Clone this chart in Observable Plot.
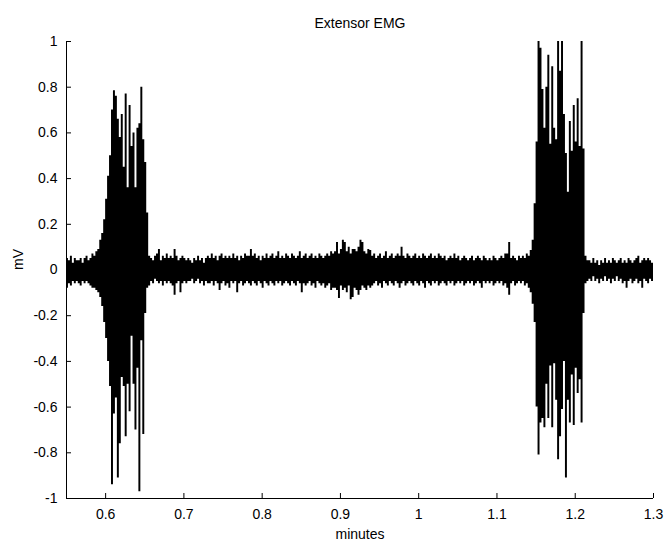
<!DOCTYPE html>
<html>
<head>
<meta charset="utf-8">
<script src="https://cdn.jsdelivr.net/npm/d3@7"></script>
<script src="https://cdn.jsdelivr.net/npm/@observablehq/plot@0.6"></script>
<style>
  html, body { margin: 0; padding: 0; background: #fff; }
</style>
</head>
<body>
<div id="chart"></div>
<script>
// ---- Data ----
const title = "Extensor EMG";
const xLabel = "minutes";
const yLabel = "mV";

// sampling grid of the envelope: start time (minutes) and bin width
const t0 = 0.55;
const dt = 0.0025;

// upper envelope (max per bin, mV)
const hi = [
  0.05,0.04,0.06,0.03,0.05,0.04,0.04,0.05,0.03,0.05,0.06,0.04,0.05,0.07,
  0.06,0.08,0.09,0.13,0.16,0.22,0.31,0.41,0.50,0.70,0.785,0.76,0.66,0.58,0.68,0.45,0.77,0.36,0.72,0.54,0.60,0.36,0.62,0.64,0.80,0.57,0.47,0.25,0.06,
  0.05,0.04,0.06,0.07,0.09,0.04,0.06,0.05,0.07,0.05,
  0.06,0.05,0.09,0.06,0.04,0.05,0.06,0.05,0.04,0.05,
  0.04,0.03,0.05,0.04,0.06,0.04,0.05,0.03,0.05,0.06,
  0.05,0.07,0.05,0.06,0.04,0.06,0.07,0.05,0.06,0.05,
  0.06,0.05,0.07,0.05,0.06,0.04,0.06,0.05,0.07,0.06,
  0.06,0.09,0.06,0.07,0.05,0.06,0.04,0.06,0.05,0.07,
  0.05,0.06,0.07,0.05,0.06,0.08,0.05,0.06,0.05,0.07,
  0.06,0.05,0.07,0.06,0.05,0.06,0.08,0.05,0.06,0.07,
  0.05,0.06,0.07,0.05,0.06,0.05,0.07,0.06,0.05,0.06,0.07,0.06,0.08,0.07,
  0.08,0.12,0.07,0.09,0.13,0.12,0.08,0.10,0.07,0.09,0.09,0.08,0.10,0.13,0.12,0.08,0.07,0.09,0.085,
  0.06,0.07,0.05,0.06,0.07,0.05,0.06,0.08,0.05,0.06,
  0.07,0.05,0.06,0.07,0.06,0.10,0.06,0.05,0.07,0.06,
  0.05,0.06,0.07,0.05,0.06,0.05,0.07,0.06,0.05,0.06,
  0.07,0.05,0.06,0.05,0.07,0.06,0.05,0.06,0.04,0.05,
  0.06,0.05,0.07,0.05,0.06,0.04,0.05,0.06,0.05,0.04,
  0.05,0.06,0.04,0.05,0.06,0.05,0.04,0.06,0.05,0.04,
  0.05,0.04,0.06,0.05,0.04,0.05,0.06,0.05,0.07,0.07,
  0.12,0.05,0.06,0.05,0.04,0.06,0.05,0.06,0.05,0.07,0.06,
  0.085,0.13,0.29,0.56,1.0,0.97,0.79,0.62,0.80,0.94,0.55,0.89,0.62,0.57,1.0,0.87,1.0,0.68,0.51,0.34,0.65,0.52,0.72,0.56,0.75,0.54,1.0,0.53,0.06,0.04,
  0.04,0.03,0.05,0.03,0.04,0.02,0.04,0.03,0.05,0.03,
  0.04,0.03,0.05,0.04,0.03,0.04,0.05,0.03,0.04,0.03,
  0.05,0.04,0.03,0.04,0.05,0.06,0.03,0.04,0.05,0.04,
  0.05,0.04,0.03,0.04
];

// lower envelope (min per bin, mV)
const lo = [
  -0.08,-0.06,-0.07,-0.05,-0.06,-0.05,-0.06,-0.07,-0.05,-0.06,-0.05,-0.06,-0.07,-0.08,
  -0.08,-0.09,-0.10,-0.12,-0.16,-0.23,-0.30,-0.40,-0.51,-0.94,-0.63,-0.56,-0.91,-0.76,-0.47,-0.51,-0.73,-0.50,-0.62,-0.29,-0.50,-0.70,-0.43,-0.97,-0.31,-0.72,-0.19,-0.08,-0.07,
  -0.05,-0.06,-0.04,-0.05,-0.06,-0.05,-0.07,-0.05,-0.06,-0.05,
  -0.06,-0.07,-0.11,-0.06,-0.05,-0.10,-0.06,-0.05,-0.06,-0.05,
  -0.05,-0.04,-0.06,-0.05,-0.04,-0.06,-0.05,-0.07,-0.05,-0.06,
  -0.06,-0.05,-0.07,-0.05,-0.06,-0.09,-0.06,-0.05,-0.07,-0.06,
  -0.08,-0.05,-0.06,-0.05,-0.10,-0.06,-0.05,-0.07,-0.06,-0.05,
  -0.06,-0.07,-0.05,-0.06,-0.07,-0.05,-0.06,-0.08,-0.05,-0.06,
  -0.07,-0.05,-0.06,-0.07,-0.05,-0.06,-0.05,-0.07,-0.06,-0.05,
  -0.06,-0.07,-0.05,-0.06,-0.07,-0.05,-0.06,-0.10,-0.06,-0.07,
  -0.06,-0.05,-0.07,-0.06,-0.08,-0.05,-0.06,-0.07,-0.06,-0.08,-0.07,-0.06,-0.09,-0.08,
  -0.08,-0.09,-0.125,-0.07,-0.09,-0.08,-0.10,-0.07,-0.13,-0.12,-0.08,-0.09,-0.11,-0.09,-0.07,-0.08,-0.09,-0.07,-0.08,
  -0.07,-0.06,-0.05,-0.07,-0.06,-0.08,-0.05,-0.06,-0.07,-0.05,
  -0.06,-0.07,-0.05,-0.06,-0.08,-0.06,-0.05,-0.07,-0.06,-0.05,
  -0.06,-0.07,-0.05,-0.06,-0.07,-0.05,-0.06,-0.08,-0.05,-0.06,
  -0.07,-0.05,-0.06,-0.05,-0.07,-0.06,-0.05,-0.06,-0.07,-0.05,
  -0.06,-0.05,-0.07,-0.06,-0.05,-0.06,-0.05,-0.07,-0.06,-0.05,
  -0.06,-0.05,-0.07,-0.06,-0.05,-0.06,-0.08,-0.05,-0.06,-0.05,
  -0.06,-0.05,-0.07,-0.06,-0.05,-0.06,-0.05,-0.07,-0.06,-0.08,
  -0.11,-0.06,-0.05,-0.07,-0.06,-0.05,-0.06,-0.05,-0.07,-0.06,-0.08,
  -0.10,-0.15,-0.23,-0.60,-0.81,-0.67,-0.65,-0.69,-0.50,-0.65,-0.42,-0.69,-0.41,-0.57,-0.83,-0.73,-0.61,-0.40,-0.91,-0.57,-0.67,-0.46,-0.68,-0.43,-0.54,-0.48,-0.67,-0.19,-0.06,-0.05,
  -0.04,-0.05,-0.03,-0.05,-0.04,-0.06,-0.04,-0.05,-0.03,-0.05,
  -0.04,-0.06,-0.04,-0.05,-0.03,-0.05,-0.04,-0.06,-0.05,-0.08,
  -0.05,-0.04,-0.06,-0.05,-0.04,-0.06,-0.05,-0.08,-0.04,-0.05,
  -0.06,-0.04,-0.05,-0.07
];

const xTicks = [0.6, 0.7, 0.8, 0.9, 1.0, 1.1, 1.2, 1.3];
const xTickLabels = ["0.6", "0.7", "0.8", "0.9", "1", "1.1", "1.2", "1.3"];
const yTicks = [1, 0.8, 0.6, 0.4, 0.2, 0, -0.2, -0.4, -0.6, -0.8, -1];
const yTickLabels = ["1", "0.8", "0.6", "0.4", "0.2", "0", "-0.2", "-0.4", "-0.6", "-0.8", "-1"];

// ---- Build table ----
const n = Math.min(hi.length, lo.length);
const rows = [];
for (let i = 0; i < n; i++) rows.push({t: t0 + i * dt, hi: hi[i], lo: lo[i]});

// ---- Layout ----
const W = 668, H = 549;
const mL = 66, mR = 15, mT = 41, mB = 51;
const frameW = W - mL - mR, frameH = H - mT - mB;
const tickLen = 5;
const fs = 14;

const chart = Plot.plot({
  width: W,
  height: H,
  marginLeft: mL,
  marginRight: mR,
  marginTop: mT,
  marginBottom: mB,
  x: {domain: [0.55, 1.3], axis: null},
  y: {domain: [-1, 1], axis: null},
  style: {
    fontFamily: "'Liberation Sans', Arial, Helvetica, sans-serif",
    fontSize: fs + "px",
    background: "#fff",
    color: "#000",
    overflow: "visible"
  },
  marks: [
    Plot.areaY(rows, {x: "t", y1: "lo", y2: "hi", curve: "step-after", fill: "#000", clip: true}),
    Plot.ruleX([0.55], {stroke: "#000", strokeWidth: 1}),
    Plot.ruleY([-1], {stroke: "#000", strokeWidth: 1}),
    Plot.tickX(xTicks, {x: d => d, insetTop: frameH - tickLen, stroke: "#000"}),
    Plot.tickY(yTicks, {y: d => d, insetRight: frameW - tickLen, stroke: "#000"}),
    Plot.axisX(xTicks, {
      anchor: "bottom", tickSize: 0, tickPadding: 11, label: null, fontSize: fs,
      tickFormat: d => xTickLabels[xTicks.indexOf(d)], fill: "#000"
    }),
    Plot.axisY(yTicks, {
      anchor: "left", tickSize: 0, tickPadding: 9, label: null, fontSize: fs,
      tickFormat: d => yTickLabels[yTicks.indexOf(d)], fill: "#000"
    }),
    Plot.text([title], {frameAnchor: "top", dy: -23, fontSize: fs, fill: "#000"}),
    Plot.text([xLabel], {frameAnchor: "bottom", dy: 40, fontSize: fs, fill: "#000"}),
    Plot.text([yLabel], {frameAnchor: "left", dx: -48, rotate: -90, fontSize: fs, fill: "#000"})
  ]
});

document.getElementById("chart").appendChild(chart);
</script>
</body>
</html>
